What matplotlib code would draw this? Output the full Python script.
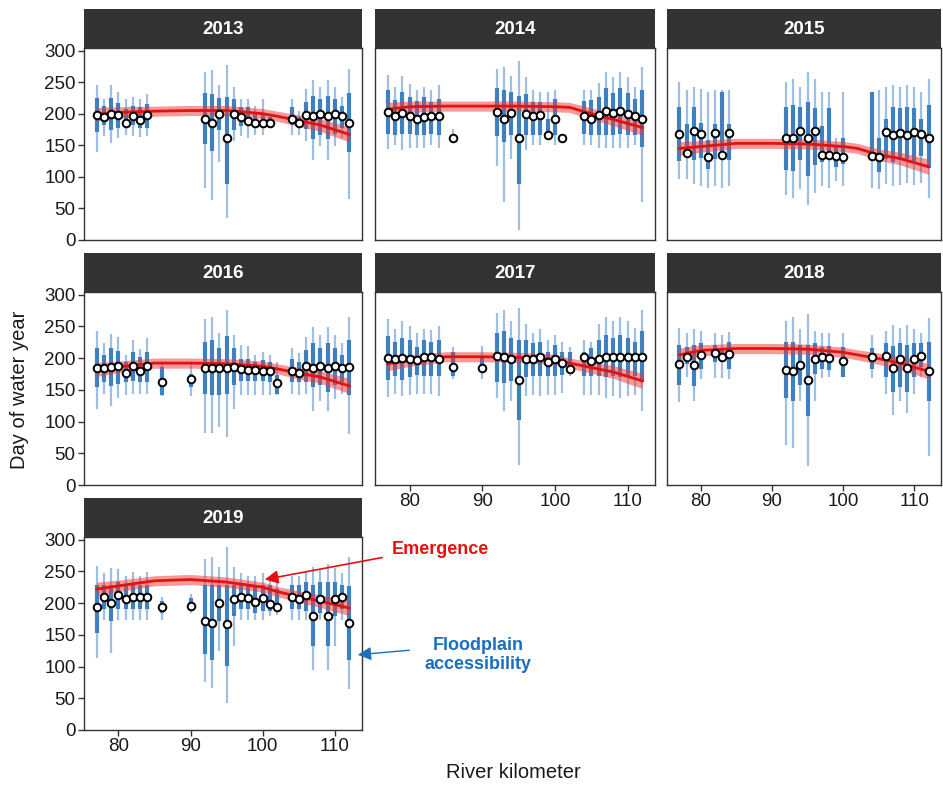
import matplotlib.pyplot as plt
from matplotlib.patches import FancyArrowPatch
import numpy as np

plt.rcParams['font.family'] = ['Liberation Sans', 'DejaVu Sans']

years = [2013, 2014, 2015, 2016, 2017, 2018, 2019]

# river km of each sampled site, per year
km = {
    2013: [77, 78, 79, 80, 81, 82, 83, 84, 92, 93, 94, 95, 96, 97, 98, 99, 100, 101,
           104, 105, 106, 107, 108, 109, 110, 111, 112],
    2014: [77, 78, 79, 80, 81, 82, 83, 84, 86, 92, 93, 94, 95, 96, 97, 98, 99, 100, 101,
           104, 105, 106, 107, 108, 109, 110, 111, 112],
    2015: [77, 78, 79, 80, 81, 82, 83, 84, 92, 93, 94, 95, 96, 97, 98, 99, 100,
           104, 105, 106, 107, 108, 109, 110, 111, 112],
    2016: [77, 78, 79, 80, 81, 82, 83, 84, 86, 90, 92, 93, 94, 95, 96, 97, 98, 99, 100, 101, 102,
           104, 105, 106, 107, 108, 109, 110, 111, 112],
    2017: [77, 78, 79, 80, 81, 82, 83, 84, 86, 90, 92, 93, 94, 95, 96, 97, 98, 99, 100, 101, 102,
           104, 105, 106, 107, 108, 109, 110, 111, 112],
    2018: [77, 78, 79, 80, 82, 83, 84, 92, 93, 94, 95, 96, 97, 98, 100,
           104, 106, 107, 108, 109, 110, 111, 112],
    2019: [77, 78, 79, 80, 81, 82, 83, 84, 86, 90, 92, 93, 94, 95, 96, 97, 98, 99, 100, 101, 102,
           104, 105, 106, 107, 108, 109, 110, 111, 112],
}

# floodplain accessibility: whisker ends and interquartile range (day of water year)
acc_lo = {
    2013: [140, 164, 154, 162, 166, 165, 163, 165, 82, 64, 123, 35, 156, 164, 162, 167, 167, 177,
           167, 167, 156, 127, 149, 127, 149, 161, 65],
    2014: [144, 151, 142, 146, 145, 145, 151, 145, 156, 117, 60, 129, 16, 142, 151, 151, 159, 151, 158,
           151, 151, 145, 145, 145, 145, 145, 151, 60],
    2015: [96, 96, 89, 86, 83, 86, 83, 86, 71, 67, 80, 56, 75, 86, 83, 94, 86,
           83, 81, 89, 86, 87, 91, 87, 91, 67],
    2016: [120, 143, 125, 137, 142, 143, 143, 143, 140, 140, 82, 82, 91, 75, 120, 142, 142, 142, 142, 142, 142,
           143, 142, 143, 116, 132, 116, 135, 143, 81],
    2017: [138, 143, 140, 142, 143, 143, 143, 140, 167, 167, 137, 116, 132, 32, 140, 142, 140, 142, 142, 145, 172,
           142, 142, 142, 137, 140, 137, 140, 142, 116],
    2018: [131, 170, 132, 167, 169, 169, 167, 63, 59, 132, 30, 132, 169, 170, 170,
           169, 143, 111, 132, 113, 143, 170, 45],
    2019: [113, 173, 122, 173, 173, 173, 173, 173, 173, 184, 76, 66, 125, 43, 133, 173, 173, 173, 173, 179, 181,
           173, 173, 173, 95, 173, 95, 133, 173, 64],
}
acc_q1 = {
    2013: [171, 182, 174, 178, 183, 182, 177, 178, 152, 141, 174, 88, 174, 181, 182, 182, 182, 182,
           182, 182, 176, 160, 167, 160, 168, 178, 139],
    2014: [168, 167, 168, 168, 167, 167, 168, 167, 158, 165, 155, 167, 88, 167, 167, 167, 161, 167, 160,
           168, 167, 167, 167, 167, 168, 167, 167, 148],
    2015: [125, 134, 126, 130, 113, 129, 129, 126, 111, 109, 126, 102, 118, 124, 129, 115, 121,
           129, 108, 129, 124, 126, 128, 125, 133, 114],
    2016: [155, 163, 156, 159, 163, 164, 162, 163, 142, 155, 143, 142, 142, 143, 158, 164, 164, 164, 164, 163, 144,
           163, 163, 163, 154, 158, 147, 158, 163, 142],
    2017: [166, 172, 166, 170, 174, 172, 171, 171, 172, 178, 162, 160, 164, 102, 170, 172, 172, 172, 172, 174, 178,
           172, 172, 172, 170, 171, 170, 171, 172, 162],
    2018: [158, 191, 156, 183, 194, 194, 183, 137, 132, 158, 109, 175, 183, 181, 170,
           183, 170, 147, 154, 147, 170, 186, 132],
    2019: [153, 191, 171, 190, 190, 190, 190, 190, 184, 187, 120, 110, 171, 101, 180, 190, 190, 184, 187, 187, 187,
           190, 190, 187, 133, 184, 133, 179, 190, 110],
}
acc_q3 = {
    2013: [225, 212, 225, 217, 208, 212, 210, 216, 232, 231, 225, 227, 223, 211, 211, 202, 200, 194,
           211, 194, 218, 228, 223, 228, 223, 212, 232],
    2014: [237, 222, 234, 226, 220, 226, 218, 224, 167, 241, 238, 234, 228, 231, 219, 218, 191, 223, 165,
           220, 222, 226, 240, 232, 240, 232, 223, 238],
    2015: [211, 183, 211, 186, 158, 183, 234, 184, 211, 214, 210, 219, 209, 180, 209, 150, 161,
           234, 161, 192, 211, 209, 211, 209, 192, 214],
    2016: [216, 204, 216, 211, 194, 209, 202, 210, 186, 175, 226, 229, 216, 235, 216, 199, 199, 194, 197, 194, 174,
           199, 194, 213, 223, 216, 223, 216, 205, 229],
    2017: [234, 226, 232, 228, 217, 229, 226, 229, 210, 202, 240, 242, 232, 229, 229, 224, 226, 210, 221, 210, 209,
           210, 216, 228, 237, 232, 237, 232, 226, 242],
    2018: [221, 218, 221, 224, 221, 216, 225, 225, 225, 221, 221, 223, 218, 219, 218,
           216, 224, 219, 224, 221, 224, 224, 225],
    2019: [229, 229, 229, 233, 229, 229, 229, 229, 203, 208, 229, 229, 229, 229, 229, 229, 229, 229, 229, 229, 222,
           229, 229, 233, 229, 233, 233, 233, 229, 227],
}
acc_hi = {
    2013: [246, 224, 246, 234, 223, 226, 224, 231, 266, 269, 245, 277, 243, 224, 224, 212, 223, 199,
           224, 204, 239, 254, 243, 254, 243, 226, 270],
    2014: [262, 242, 259, 247, 237, 242, 237, 246, 175, 270, 274, 260, 283, 258, 238, 235, 234, 237, 167,
           237, 237, 248, 266, 258, 266, 258, 242, 274],
    2015: [250, 237, 242, 239, 234, 238, 238, 238, 250, 255, 242, 266, 255, 235, 235, 161, 235,
           234, 237, 242, 246, 242, 246, 242, 235, 255],
    2016: [242, 223, 238, 233, 205, 229, 214, 231, 194, 194, 261, 264, 239, 275, 237, 220, 219, 205, 209, 205, 194,
           216, 208, 233, 249, 237, 249, 237, 223, 264],
    2017: [262, 245, 259, 251, 240, 245, 244, 251, 218, 219, 271, 275, 259, 279, 254, 240, 245, 229, 237, 226, 218,
           229, 226, 254, 264, 259, 264, 259, 248, 275],
    2018: [248, 240, 245, 243, 240, 237, 241, 259, 264, 245, 270, 243, 240, 240, 240,
           237, 243, 252, 248, 252, 245, 240, 263],
    2019: [258, 247, 255, 253, 242, 249, 243, 249, 209, 214, 269, 273, 256, 289, 256, 247, 243, 242, 247, 241, 235,
           243, 243, 251, 257, 254, 262, 255, 247, 273],
}

# observed day of water year at each site
observed = {
    2013: [198, 195, 200, 198, 185, 196, 190, 198, 192, 185, 200, 162, 200, 194, 189, 185, 185, 185,
           191, 185, 198, 196, 200, 196, 200, 196, 185],
    2014: [203, 196, 201, 197, 192, 195, 197, 196, 162, 203, 192, 201, 162, 200, 196, 198, 166, 192, 162,
           196, 192, 198, 205, 201, 205, 200, 196, 192],
    2015: [168, 137, 172, 168, 132, 169, 134, 169, 161, 162, 173, 161, 172, 135, 134, 133, 132,
           133, 132, 171, 167, 170, 167, 171, 168, 162],
    2016: [185, 184, 186, 188, 177, 188, 179, 187, 163, 167, 185, 185, 185, 185, 186, 182, 181, 181, 179, 180, 160,
           179, 177, 188, 184, 187, 185, 187, 185, 186],
    2017: [200, 199, 200, 199, 197, 201, 201, 199, 186, 184, 203, 201, 199, 166, 199, 199, 201, 194, 198, 192, 183,
           201, 196, 198, 202, 201, 202, 201, 202, 202],
    2018: [190, 202, 189, 204, 208, 201, 206, 181, 179, 189, 165, 199, 201, 200, 196,
           201, 203, 185, 199, 185, 199, 203, 179],
    2019: [194, 210, 200, 212, 207, 210, 209, 210, 194, 195, 172, 168, 200, 167, 206, 210, 208, 201, 208, 199, 194,
           209, 207, 213, 180, 206, 180, 206, 210, 168],
}

# modelled emergence curve
fit_km = [77, 80, 85, 90, 95, 100, 102, 105, 108, 112]
emergence = {
    2013: [199, 202, 204, 205, 205, 200, 196, 189, 182, 167],
    2014: [207, 211, 212, 212, 212, 211, 210, 200, 191, 178],
    2015: [145, 148, 153, 153, 152, 148, 145, 135, 129, 116],
    2016: [182, 186, 192, 192, 191, 187, 183, 176, 170, 156],
    2017: [191, 196, 202, 202, 201, 198, 192, 185, 178, 164],
    2018: [205, 212, 215, 215, 214, 209, 205, 199, 192, 179],
    2019: [222, 227, 235, 237, 233, 225, 218, 210, 203, 192],
}
emergence_se = [11, 9, 8, 8, 8, 8, 8, 9, 10, 12]

W, H = 943, 792
fig = plt.figure(figsize=(W / 100, H / 100), dpi=100)

cols = [(84, 362), (375, 655), (667, 941)]
rows = [(48, 240), (292, 485), (537, 730)]
strip_h = 39


def box(x0, y0, x1, y1):
    return [x0 / W, 1 - y1 / H, (x1 - x0) / W, (y1 - y0) / H]


for i, yr in enumerate(years):
    r, c = divmod(i, 3)
    x0, x1 = cols[c]
    y0, y1 = rows[r]
    ax = fig.add_axes(box(x0, y0, x1, y1))

    k = np.array(km[yr])
    ax.vlines(k, acc_lo[yr], acc_hi[yr], color='#8db4dc', alpha=0.85, lw=1.6, zorder=1)
    ax.vlines(k, acc_q1[yr], acc_q3[yr], color='#3f80c0', lw=3.0, zorder=2)

    fit = np.array(emergence[yr])
    se = np.array(emergence_se)
    ax.fill_between(fit_km, fit - se, fit + se, color='#ee3535', alpha=0.5, lw=0, zorder=3)
    ax.plot(fit_km, fit, color='#e3120f', lw=2.0, zorder=4)

    ax.scatter(k, observed[yr], s=30, facecolor='white', edgecolor='black', linewidth=1.4, zorder=5)

    ax.set_xlim(75.25, 113.75)
    ax.set_ylim(0, 304)
    ax.set_xticks([80, 90, 100, 110])
    ax.set_yticks([0, 50, 100, 150, 200, 250, 300])
    for s in ax.spines.values():
        s.set_color('#333333')
        s.set_linewidth(1.0)
    ax.tick_params(length=4, width=1, color='#333333', labelsize=13.5, labelcolor='#1a1a1a', pad=2)
    if c != 0:
        ax.set_yticklabels([])
        ax.tick_params(axis='y', length=0)
    bottom = (r == 2) or (r == 1 and c > 0)
    if not bottom:
        ax.set_xticklabels([])
        ax.tick_params(axis='x', length=0)

    sax = fig.add_axes(box(x0, y0 - strip_h, x1, y0))
    sax.set_facecolor('#333333')
    sax.set_xticks([])
    sax.set_yticks([])
    for s in sax.spines.values():
        s.set_visible(False)
    sax.text(0.5, 0.47, str(yr), color='white', fontsize=13.5, fontweight='bold',
             ha='center', va='center', transform=sax.transAxes)

fig.text(20 / W, 1 - 390 / H, 'Day of water year', rotation=90, fontsize=14.5,
         ha='center', va='center', color='#1a1a1a')
fig.text(513 / W, 1 - 772 / H, 'River kilometer', fontsize=14.5,
         ha='center', va='center', color='#1a1a1a')

fig.text(440 / W, 1 - 550 / H, 'Emergence', color='#e8100e', fontsize=13,
         fontweight='bold', ha='center', va='center')
fig.add_artist(FancyArrowPatch(
    (385 / W, 1 - 557 / H), (262 / W, 1 - 580 / H), transform=fig.transFigure,
    arrowstyle='-|>,head_length=8,head_width=4', color='#e8100e', lw=1.2))

fig.text(478 / W, 1 - 655 / H, 'Floodplain\naccessibility', color='#1a6fc0', fontsize=13,
         fontweight='bold', ha='center', va='center', linespacing=1.15)
fig.add_artist(FancyArrowPatch(
    (412 / W, 1 - 650 / H), (355 / W, 1 - 655 / H), transform=fig.transFigure,
    arrowstyle='-|>,head_length=8,head_width=4', color='#1a6fc0', lw=1.0))

fig.savefig('out.png', dpi=100)
